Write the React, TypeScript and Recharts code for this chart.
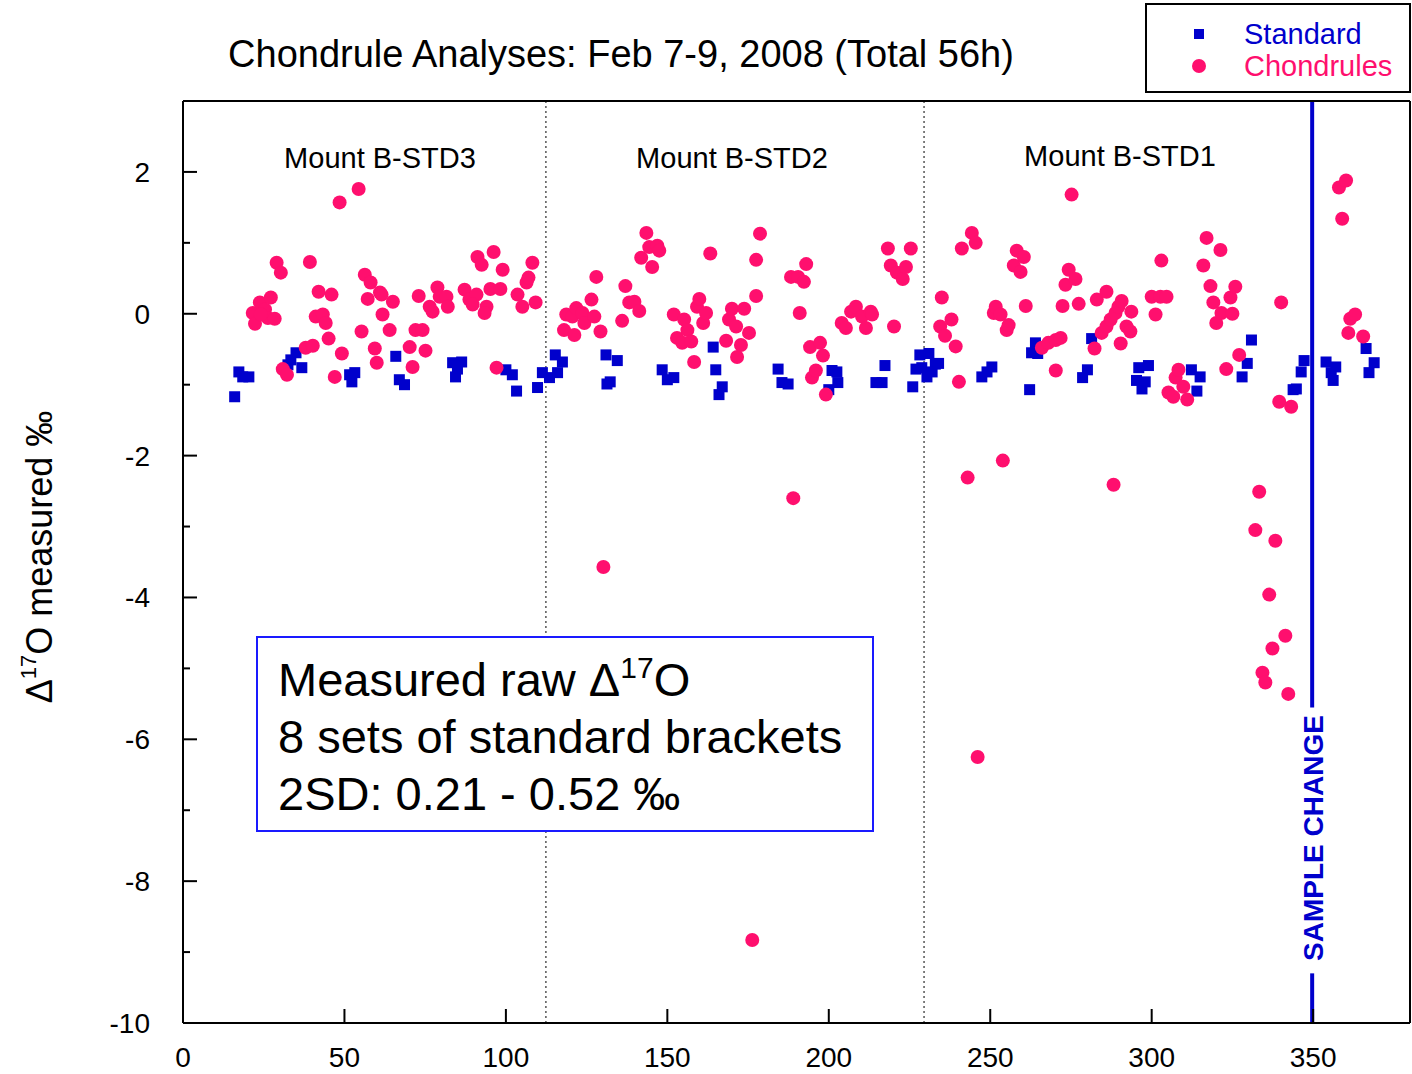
import React from "react";
import { ScatterChart, Scatter, XAxis, YAxis, ReferenceLine } from "recharts";

if (typeof document !== "undefined") document.body.style.margin = "0";

const FONT = "'Liberation Sans', Arial, sans-serif";
const BLUE = "#0000cc";
const PINK = "#ff0f6e";

// Standard analyses (x = analysis #, y = Δ17O ‰)
const STD_X = [
  16, 17.3, 18.5, 20.4, 32.5, 33.4, 35, 36.8, 51.6, 53.2, 52.3, 65.9, 67, 68.6,
  83.5, 86.3, 85, 84.4, 100, 102, 103.3, 109.8, 111.3, 113.5, 116, 115.3, 117.5,
  131, 134.5, 132.3, 131.3, 148.4, 150, 152, 164.2, 165, 167, 166,
  184.3, 185.5, 187.4, 201, 202.5, 202.8, 200, 217.4, 214.6, 216.5,
  226, 228.2, 231, 233, 227, 228.8, 230.4, 232, 234, 247.4, 249, 250.5,
  262.2, 264, 264.7, 262.8, 281.4, 280.1, 278.6, 296, 299, 295.3, 298, 297,
  312.3, 315, 314, 330.9, 329.6, 328, 347.2, 346.3, 344.8, 343.8,
  354, 357, 355.6, 356.2, 366.4, 368.9, 367.3,
];
const STD_Y = [
  -1.17, -0.82, -0.89, -0.89, -0.72, -0.65, -0.55, -0.76, -0.86, -0.83, -0.96, -0.6, -0.93, -1.0,
  -0.69, -0.68, -0.78, -0.89, -0.79, -0.86, -1.09, -1.04, -0.83, -0.9, -0.83, -0.58, -0.68,
  -0.58, -0.66, -0.96, -0.99, -0.79, -0.93, -0.9, -0.47, -0.79, -1.03, -1.14,
  -0.78, -0.97, -0.99, -0.8, -0.82, -0.97, -1.07, -0.73, -0.97, -0.97,
  -1.03, -0.58, -0.56, -0.71, -0.78, -0.76, -0.89, -0.82, -0.7, -0.89, -0.82, -0.75,
  -1.07, -0.41, -0.56, -0.55, -0.35, -0.79, -0.9, -0.76, -0.73, -0.94, -0.96, -1.06,
  -0.79, -0.89, -1.09, -0.37, -0.7, -0.89, -0.66, -0.82, -1.06, -1.07,
  -0.68, -0.75, -0.83, -0.94, -0.49, -0.69, -0.83,
];

// Chondrule analyses
const CHD_X = [
  21.6, 23.8, 25.4, 26.3, 28.4, 22.3, 24.1, 27.2, 29, 30.3, 30.9, 32.2, 38, 40.2, 39.3,
  41.1, 43.3, 44.2, 42, 45.1, 46, 47, 48.5, 49.2, 54.4, 55.3, 56.3, 58.1, 57.2, 59.4,
  60, 61, 61.8, 61.5, 65, 64,
  70.2, 71.1, 72, 74.2, 73, 75.1, 76.4, 77.3, 78.8, 79.5, 81.6, 82, 87.2, 88.7, 90.9,
  89.7, 91.2, 92.5, 94, 93.4, 95.2, 96.2, 97.1, 98.3, 99, 103.6, 105.1, 106.4, 107,
  108.2, 109.2, 118.7, 118,
  120.6, 121.8, 121.2, 123.7, 124.3, 126.5, 127.4, 128, 129.3, 130.2, 136, 137, 138.2,
  139.8, 141.3, 141.9, 143.5, 144.4, 145.3, 146.9, 147.5, 152, 153, 154.6, 155.2, 156.2,
  157.4, 158.3, 159.2, 159.9, 161.1, 162, 163.3, 168.2, 169.1, 170, 171.3, 171.6, 172.8,
  173.8, 175.3, 176.3, 177.5, 177.5, 178.7,
  188.3, 189, 190.5, 191, 192.3, 193, 194.2, 194.8, 196, 197.3, 198.2, 199.1, 204, 205.3,
  206.9, 208.4, 210.3, 211.5, 213, 213.4, 218.3, 219.2, 220.2, 221.1, 222.9, 223.9, 225.4,
  234.5, 235, 236, 238, 239.3, 240.3,
  241.2, 243, 244.3, 245.5, 246.1, 251.1, 251.7, 253.2, 253.9, 255.1, 255.7, 257.3, 258.2,
  259.4, 260.4, 261, 266, 268, 270.3, 271.8, 270.3, 272.4, 273.3, 274.3, 275.2, 276.4,
  277.4, 282.3, 283, 284.5, 286, 286, 287.3, 288.2, 288.8, 289.7, 290.4, 290.7, 292.2,
  293.4, 293.7,
  300, 301.2, 302.7, 303, 304.6, 305.2, 306.7, 307.4, 308.3, 309.8, 311, 316, 317, 318.2,
  319.1, 320, 321.3, 321.6, 323.1, 324.4, 325, 325.9, 327.1, 332.1, 333.3, 334.3, 335.2,
  336.4, 337.4, 338.3, 339.5, 340.1, 341.4, 342.3, 343.2, 358, 359, 360.2, 360.9, 361.5,
  363, 365.5,
];
const CHD_Y = [
  0.01, 0.16, 0.06, -0.06, -0.07, -0.14, -0.01, 0.23, 0.72, 0.58, -0.78, -0.86, -0.48, -0.45, 0.73,
  -0.04, -0.01, -0.13, 0.31, -0.35, 0.27, -0.89, 1.57, -0.56, 1.76, -0.25, 0.55, 0.44, 0.21, -0.49,
  -0.69, 0.3, -0.01, 0.27, 0.17, -0.23,
  -0.47, -0.75, -0.23, -0.23, 0.25, -0.52, 0.1, 0.03, 0.37, 0.24, 0.24, 0.1, 0.34, 0.2, 0.27,
  0.13, 0.8, 0.69, 0.1, 0.01, 0.35, 0.87, -0.76, 0.35, 0.62, 0.27, 0.1, 0.44, 0.51,
  0.72, 0.16, -0.01, -0.23,
  -0.04, 0.08, -0.3, 0.01, -0.13, 0.2, -0.04, 0.52, -0.25, -3.57, -0.1, 0.39, 0.16,
  0.17, 0.04, 0.79, 1.14, 0.94, 0.66, 0.96, 0.89, -0.01, -0.34, -0.41, -0.08, -0.23,
  -0.39, -0.68, 0.1, 0.21, -0.13, 0.01, 0.85, -0.38, -0.08, 0.07, -0.18, -0.61, -0.44,
  0.07, -0.27, -8.83, 0.25, 0.76, 1.13,
  0.52, -2.6, 0.52, 0.01, 0.45, 0.7, -0.47, -0.9, -0.8, -0.41, -0.59, -1.14, -0.13, -0.2,
  0.03, 0.1, -0.04, -0.2, 0.03, -0.01, 0.92, 0.68, -0.18, 0.58, 0.49, 0.66, 0.92,
  -0.18, 0.23, -0.31, -0.08, -0.46, -0.96,
  0.92, -2.31, 1.14, 1.0, -6.25, 0.01, 0.1, -0.01, -2.07, -0.23, -0.16, 0.68, 0.89,
  0.59, 0.8, 0.11, -0.48, -0.41, -0.37, -0.34, -0.8, 0.11, 0.41, 0.62, 1.68, 0.49,
  0.14, -0.49, 0.2, -0.27, -0.18, 0.31, -0.08, -2.41, 0.01, 0.1, -0.42, 0.18, -0.18,
  -0.25, 0.03,
  0.24, -0.01, 0.24, 0.75, 0.24, -1.11, -1.17, -0.9, -0.79, -1.03, -1.21, 0.68, 1.07, 0.39,
  0.16, -0.13, 0.9, 0.01, -0.78, 0.23, 0, 0.38, -0.58, -3.05, -2.51, -5.06, -5.2,
  -3.96, -4.72, -3.2, -1.24, 0.16, -4.54, -5.36, -1.31, 1.78, 1.34, 1.88, -0.27, -0.07,
  -0.01, -0.32,
];

const X_TICKS = [0, 50, 100, 150, 200, 250, 300, 350];
const Y_TICKS = [-10, -9, -8, -7, -6, -5, -4, -3, -2, -1, 0, 1, 2];

const standardData = STD_X.map((x, i) => ({ x, y: STD_Y[i] }));
const chondruleData = CHD_X.map((x, i) => ({ x, y: CHD_Y[i] }));

const Square = (props: any) => (
  <rect x={props.cx - 5.5} y={props.cy - 5.5} width={11} height={11} fill={BLUE} />
);
const Dot = (props: any) => <circle cx={props.cx} cy={props.cy} r={7} fill={PINK} />;

const BottomTick = ({ x, y, payload }: any) => (
  <g>
    <line x1={x} y1={y} x2={x} y2={y - 14} stroke="#000" strokeWidth={2} />
    <text x={x} y={y + 44} textAnchor="middle" fontSize={28} fontFamily={FONT} fill="#000">
      {payload.value}
    </text>
  </g>
);
const TopTick = ({ x, y }: any) => (
  <line x1={x} y1={y} x2={x} y2={y + 14} stroke="#000" strokeWidth={2} />
);
const LeftTick = ({ x, y, payload }: any) => {
  const major = payload.value % 2 === 0;
  return (
    <g>
      <line x1={x} y1={y} x2={x + (major ? 14 : 7)} y2={y} stroke="#000" strokeWidth={2} />
      {major && (
        <text x={x - 33} y={y + 10} textAnchor="end" fontSize={28} fontFamily={FONT} fill="#000">
          {payload.value}
        </text>
      )}
    </g>
  );
};
const RightTick = ({ x, y, payload }: any) => {
  const major = payload.value % 2 === 0;
  return <line x1={x} y1={y} x2={x - (major ? 14 : 7)} y2={y} stroke="#000" strokeWidth={2} />;
};

const axisLine = { stroke: "#000", strokeWidth: 2 };

export default function App() {
  return (
    <div style={{ position: "relative", width: 1412, height: 1074, background: "#fff" }}>
      <ScatterChart width={1412} height={1074} margin={{ top: 100, right: 1, bottom: 50, left: 182 }}>
        <XAxis xAxisId="b" type="number" dataKey="x" domain={[0, 380]} ticks={X_TICKS} interval={0}
          tickSize={0} tickMargin={0} height={1} axisLine={axisLine} tick={BottomTick} />
        <XAxis xAxisId="t" orientation="top" type="number" dataKey="x" domain={[0, 380]} ticks={X_TICKS}
          interval={0} tickSize={0} tickMargin={0} height={1} axisLine={axisLine} tick={TopTick} />
        <YAxis yAxisId="l" type="number" dataKey="y" domain={[-10, 3]} ticks={Y_TICKS} interval={0}
          tickSize={0} tickMargin={0} width={1} axisLine={axisLine} tick={LeftTick} />
        <YAxis yAxisId="r" orientation="right" type="number" dataKey="y" domain={[-10, 3]} ticks={Y_TICKS}
          interval={0} tickSize={0} tickMargin={0} width={1} axisLine={axisLine} tick={RightTick} />
        <ReferenceLine xAxisId="b" yAxisId="l" x={112.4} stroke="#000" strokeWidth={1} strokeDasharray="2 3" />
        <ReferenceLine xAxisId="b" yAxisId="l" x={229.5} stroke="#000" strokeWidth={1} strokeDasharray="2 3" />
        <ReferenceLine xAxisId="b" yAxisId="l" stroke={BLUE} strokeWidth={4}
          segment={[{ x: 349.7, y: 3 }, { x: 349.7, y: -5.55 }]} />
        <ReferenceLine xAxisId="b" yAxisId="l" stroke={BLUE} strokeWidth={4}
          segment={[{ x: 349.7, y: -9.3 }, { x: 349.7, y: -10 }]} />
        <Scatter name="Standard" xAxisId="b" yAxisId="l" data={standardData} shape={Square} isAnimationActive={false} />
        <Scatter name="Chondrules" xAxisId="b" yAxisId="l" data={chondruleData} shape={Dot} isAnimationActive={false} />
      </ScatterChart>
      <svg width={1412} height={1074} style={{ position: "absolute", left: 0, top: 0, pointerEvents: "none" }}
        fontFamily={FONT}>
        <text x={621} y={67} textAnchor="middle" fontSize={38} fill="#000">
          Chondrule Analyses: Feb 7-9, 2008 (Total 56h)
        </text>
        <text x={380} y={168} textAnchor="middle" fontSize={29} fill="#000">Mount B-STD3</text>
        <text x={732} y={168} textAnchor="middle" fontSize={29} fill="#000">Mount B-STD2</text>
        <text x={1120} y={166} textAnchor="middle" fontSize={29} fill="#000">Mount B-STD1</text>
        <text transform="translate(52,557) rotate(-90)" textAnchor="middle" fontSize={36} fill="#000">
          Δ<tspan fontSize={22} dy={-16}>17</tspan><tspan dy={16}>O measured ‰</tspan>
        </text>
        <text transform="translate(1323,838) rotate(-90)" textAnchor="middle" fontSize={28} fontWeight="bold"
          fill={BLUE}>
          SAMPLE CHANGE
        </text>
        <rect x={1146} y={4} width={264} height={88} fill="#fff" stroke="#000" strokeWidth={2} />
        <rect x={1194} y={29} width={10} height={10} fill={BLUE} />
        <circle cx={1199} cy={66} r={7} fill={PINK} />
        <text x={1244} y={44} fontSize={29} fill={BLUE}>Standard</text>
        <text x={1244} y={76} fontSize={29} fill={PINK}>Chondrules</text>
        <rect x={257} y={637} width={616} height={194} fill="#fff" stroke="#1a1aff" strokeWidth={2} />
        <text x={278} y={696} fontSize={47} fill="#000">
          Measured raw Δ<tspan fontSize={30} dy={-18}>17</tspan><tspan dy={18}>O</tspan>
        </text>
        <text x={278} y={753} fontSize={47} fill="#000">8 sets of standard brackets</text>
        <text x={278} y={810} fontSize={47} fill="#000">2SD: 0.21 - 0.52 ‰</text>
      </svg>
    </div>
  );
}
